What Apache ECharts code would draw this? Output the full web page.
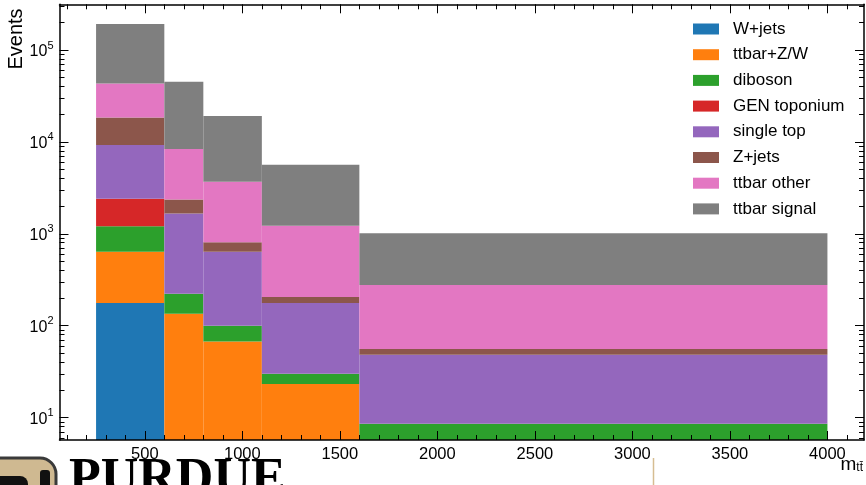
<!DOCTYPE html>
<html>
<head>
<meta charset="utf-8">
<script src="https://cdn.jsdelivr.net/npm/echarts@6/dist/echarts.min.js"></script>
<style>
  html, body { margin: 0; padding: 0; background: #fff; }
  #chart-container { width: 866px; height: 485px; }
</style>
</head>
<body>
<div id="chart-container"></div>
<script>
// bin edges of m_tt (GeV) and per-process event counts per bin
const binEdges = [250, 600, 800, 1100, 1600, 4000];
const wJets = [177, 0, 0, 0, 0];
const ttbarZW = [460, 135, 67.5, 23.2, 5];
const diboson = [574, 88, 32.5, 6.8, 3.6];
const genToponium = [1199, 0, 0, 0, 0];
const singleTop = [6840, 1440, 537, 147, 39.7];
const zJets = [9150, 703, 172, 28, 7.4];
const ttbarOther = [24850, 6014, 2881, 1015, 222];
const ttbarSignal = [148150, 36600, 15450, 4430, 737];

const processNames = ["W+jets", "ttbar+Z/W", "diboson", "GEN toponium", "single top", "Z+jets", "ttbar other", "ttbar signal"];
const processValues = [wJets, ttbarZW, diboson, genToponium, singleTop, zJets, ttbarOther, ttbarSignal];
const processColors = ["#1f77b4", "#ff7f0e", "#2ca02c", "#d62728", "#9467bd", "#8c564b", "#e377c2", "#7f7f7f"];

const xTickLabels = [500, 1000, 1500, 2000, 2500, 3000, 3500, 4000];
const xMinorStep = 100;
const yTickExponents = [1, 2, 3, 4, 5];
const yMinorMultipliers = [2, 3, 4, 5, 6, 7, 8, 9];

const xMin = 62.5, xMax = 4187.5;
const yMinExp = Math.log10(5.71), yMaxExp = Math.log10(314000);

let dom = document.getElementById("chart-container");
let myChart = echarts.init(dom, null, { renderer: "canvas" });
let option;

const fontFamily = "Liberation Sans";

// minor tick positions
let xMinor = [];
for (let v = xMinorStep; v < xMax; v += xMinorStep) {
  if (v % 500 !== 0) xMinor.push(v);
}
let yMinor = [];
for (let e = 0; e <= 5; e++) {
  yMinorMultipliers.forEach((k) => {
    const p = Math.log10(k) + e;
    if (p > yMinExp && p < yMaxExp) yMinor.push(p);
  });
}

// stacked series data: [x0, x1, lower, upper]
let cumulative = binEdges.slice(1).map(() => 0);
const stacked = processValues.map((vals) =>
  vals.map((v, i) => {
    const lo = cumulative[i];
    cumulative[i] += v;
    return [binEdges[i], binEdges[i + 1], lo, cumulative[i]];
  })
);

function renderBin(params, api) {
  const lo = api.value(2);
  const hi = api.value(3);
  if (!(hi > lo)) return null;
  const yHi = Math.log10(hi);
  if (yHi <= yMinExp) return null;
  const yLo = lo > 0 ? Math.max(Math.log10(lo), yMinExp) : yMinExp;
  const p0 = api.coord([api.value(0), yLo]);
  const p1 = api.coord([api.value(1), yHi]);
  return {
    type: "rect",
    shape: { x: p0[0], y: p1[1], width: p1[0] - p0[0], height: p0[1] - p1[1] },
    style: { fill: api.visual("color") },
  };
}

const tickStyle = { color: "#000", width: 1 };

function xAxisDef(position, major) {
  return {
    type: "value",
    position: position,
    min: xMin,
    max: xMax,
    z: 5,
    axisLine: { show: major, lineStyle: { color: "#000", width: 1.5 } },
    axisTick: {
      show: true,
      inside: true,
      length: major ? 9 : 5,
      customValues: major ? xTickLabels : xMinor,
      lineStyle: tickStyle,
    },
    axisLabel: {
      show: major && position === "bottom",
      customValues: xTickLabels,
      formatter: (v) => String(v),
      margin: 6,
      fontSize: 16.5,
      fontFamily: fontFamily,
      color: "#000",
    },
    splitLine: { show: false },
  };
}

function yAxisDef(position, major) {
  return {
    type: "value",
    position: position,
    min: yMinExp,
    max: yMaxExp,
    z: 5,
    axisLine: { show: major, lineStyle: { color: "#000", width: 1.5 } },
    axisTick: {
      show: true,
      inside: true,
      length: major ? 9 : 5,
      customValues: major ? yTickExponents : yMinor,
      lineStyle: tickStyle,
    },
    axisLabel: {
      show: major && position === "left",
      customValues: yTickExponents,
      margin: 6,
      formatter: (v) => "{b|10}{s|" + Math.round(v) + "}",
      rich: {
        b: { fontSize: 16, lineHeight: 20, verticalAlign: "bottom", fontFamily: fontFamily, color: "#000" },
        s: { fontSize: 11, lineHeight: 11, verticalAlign: "top", fontFamily: fontFamily, color: "#000" },
      },
    },
    splitLine: { show: false },
  };
}

option = {
  animation: false,
  backgroundColor: "#fff",
  color: processColors,
  grid: { left: 59.5, right: 2, top: 4.3, bottom: 45, outerBoundsMode: "none" },
  legend: {
    orient: "vertical",
    left: 693,
    top: 20.5,
    padding: 0,
    icon: "rect",
    itemWidth: 26,
    itemHeight: 11,
    itemGap: 8.7,
    data: processNames,
    textStyle: {
      fontSize: 17,
      lineHeight: 17,
      fontFamily: fontFamily,
      color: "#000",
      padding: [0, 0, 0, 9],
    },
  },
  xAxis: [
    xAxisDef("bottom", true),
    xAxisDef("bottom", false),
    xAxisDef("top", true),
    xAxisDef("top", false),
  ],
  yAxis: [
    yAxisDef("left", true),
    yAxisDef("left", false),
    yAxisDef("right", true),
    yAxisDef("right", false),
  ],
  series: processNames.map((name, i) => ({
    name: name,
    type: "custom",
    xAxisIndex: 0,
    yAxisIndex: 0,
    clip: true,
    renderItem: renderBin,
    itemStyle: { color: processColors[i] },
    encode: { x: [0, 1], y: [2, 3] },
    data: stacked[i],
  })),
  graphic: [
    {
      type: "text",
      x: 16.5,
      y: 39,
      rotation: Math.PI / 2,
      style: {
        text: "Events",
        fontSize: 20,
        fontFamily: fontFamily,
        fill: "#000",
        align: "center",
        verticalAlign: "middle",
      },
    },
    {
      type: "text",
      right: 3,
      top: 455,
      style: {
        text: "{m|m}{s|tt\u0304}",
        rich: {
          m: { fontSize: 19, lineHeight: 20, verticalAlign: "bottom", fontFamily: fontFamily, fill: "#000" },
          s: { fontSize: 12, lineHeight: 25, verticalAlign: "bottom", fontFamily: fontFamily, fill: "#000" },
        },
      },
    },
    // logo at the lower left, mostly cut off
    {
      type: "rect",
      z: -10,
      shape: { x: -30, y: 458, width: 86, height: 50, r: 16 },
      style: { fill: "#cfb991", stroke: "#3a3a3a", lineWidth: 3 },
    },
    {
      type: "rect",
      z: -10,
      shape: { x: -30, y: 476, width: 58, height: 30, r: 8 },
      style: { fill: "#111" },
    },
    {
      type: "rect",
      z: -10,
      shape: { x: 40, y: 470, width: 10, height: 20, r: 3 },
      style: { fill: "#111" },
    },
    {
      type: "text",
      z: -10,
      x: 69,
      y: 455,
      style: {
        text: "PURDUE",
        fontSize: 52,
        fontWeight: "bold",
        fontFamily: "Liberation Serif",
        fill: "#000",
      },
    },
    {
      type: "line",
      z: -10,
      shape: { x1: 653.5, y1: 458, x2: 653.5, y2: 485 },
      style: { stroke: "#d6bd92", lineWidth: 1.5 },
    },
  ],
};

if (option && typeof option === "object") {
  myChart.setOption(option);
}

window.addEventListener("resize", myChart.resize);
</script>
</body>
</html>
